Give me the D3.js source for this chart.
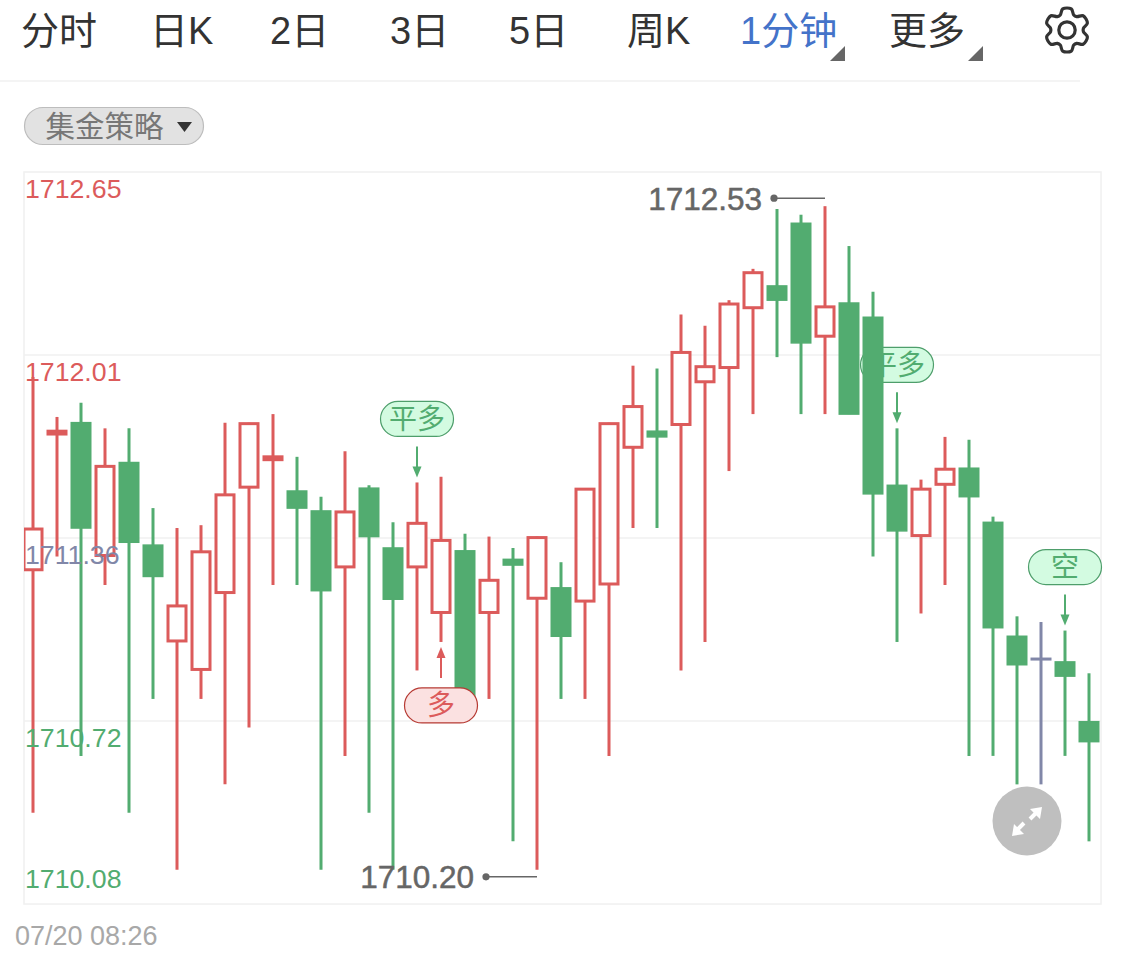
<!DOCTYPE html>
<html>
<head>
<meta charset="utf-8">
<script src="https://cdnjs.cloudflare.com/ajax/libs/d3/7.8.5/d3.min.js"></script>
<style>
html,body{margin:0;padding:0;background:#fff;}
svg{display:block;font-family:"Liberation Sans","Noto Sans CJK SC",sans-serif;}
</style>
</head>
<body>
<svg id="c" width="1125" height="957"></svg>
<script>
// ---- data ----
const openP  = [1711.25,1711.73,1711.77,1711.30,1711.63,1711.34,1711.00,1710.90,1711.17,1711.54,1711.64,1711.53,1711.46,1711.26,1711.54,1711.33,1711.26,1711.10,1711.32,1711.10,1711.29,1711.15,1711.19,1711.14,1711.20,1711.68,1711.74,1711.76,1711.91,1711.96,1712.17,1712.25,1712.47,1712.07,1712.19,1712.14,1711.55,1711.37,1711.55,1711.61,1711.42,1711.02,1710.94,1710.93,1710.72];
const closeP = [1711.40,1711.74,1711.40,1711.62,1711.35,1711.23,1711.13,1711.32,1711.52,1711.77,1711.65,1711.47,1711.18,1711.46,1711.37,1711.15,1711.42,1711.36,1710.81,1711.22,1711.27,1711.37,1711.02,1711.54,1711.77,1711.83,1711.72,1712.02,1711.97,1712.19,1712.30,1712.20,1712.05,1712.18,1711.80,1711.52,1711.39,1711.54,1711.61,1711.51,1711.05,1710.92,1710.94,1710.88,1710.65];
const highP  = [1711.93,1711.79,1711.84,1711.75,1711.75,1711.47,1711.40,1711.41,1711.77,1711.77,1711.80,1711.65,1711.51,1711.67,1711.55,1711.42,1711.56,1711.58,1711.38,1711.37,1711.33,1711.37,1711.28,1711.54,1711.77,1711.97,1711.96,1712.15,1712.11,1712.20,1712.31,1712.52,1712.50,1712.53,1712.39,1712.23,1711.75,1711.57,1711.72,1711.71,1711.44,1711.09,1711.07,1711.04,1710.89];
const lowP   = [1710.40,1711.30,1710.60,1711.20,1710.40,1710.80,1710.20,1710.80,1710.50,1710.70,1711.20,1711.20,1710.20,1710.60,1710.40,1710.20,1710.90,1711.00,1710.80,1710.80,1710.30,1710.20,1710.80,1710.80,1710.60,1711.40,1711.40,1710.90,1711.00,1711.60,1711.80,1712.00,1711.80,1711.80,1711.80,1711.30,1711.00,1711.10,1711.20,1710.60,1710.60,1710.50,1710.50,1710.60,1710.30];
const axisTicks  = [1712.65,1712.0075,1711.365,1710.7225,1710.08];
const axisLabels = ["1712.65","1712.01","1711.36","1710.72","1710.08"];
const gridTicks  = [1712.0075,1711.365,1710.7225];
const tabLabels  = ["分时","日K","2日","3日","5日","周K","1分钟","更多"];
const signalIdx  = [36,16,17,43];
const signalText = ["平多","平多","多","空"];
const signalDir  = ["sell","sell","buy","sell"];
const strategyLabel = "集金策略";
const dateLabel = "07/20 08:26";

// ---- colours ----
const RED="#DC5B5B", GREEN="#52AC70", GRAY="#8187A8";
const svg=d3.select("#c");

// ---- scales ----
const idx=d3.range(openP.length);
const x=d3.scaleBand().domain(idx).range([21,1101]).paddingInner(.125).paddingOuter(.0625);
const y=d3.scaleLinear().domain([1710.08,1712.65]).range([904,172]);
const cx=i=>x(i)+x.bandwidth()/2;

// ---- tab bar ----
const tabX=[21,150,270,390,509,627,740,889];
svg.selectAll("text.tab").data(tabLabels).join("text").attr("class","tab")
  .attr("x",(d,i)=>tabX[i]).attr("y",44).attr("font-size",38)
  .attr("fill",(d,i)=>i===6?"#4473C9":"#333").text(d=>d);
[[845,46],[983,46]].forEach(p=>svg.append("path")
  .attr("d",`M${p[0]} ${p[1]}V${p[1]+15}H${p[0]-15}Z`).attr("fill","#666"));
// gear
const gearPts=[];
d3.range(6).forEach(k=>{const a=k*Math.PI/3;
  [[-.42,16.5],[-.2,21.5],[.2,21.5],[.42,16.5]].forEach(t=>gearPts.push([a+t[0],t[1]]));});
svg.append("path").attr("transform","translate(1067,30)")
  .attr("d",d3.lineRadial().curve(d3.curveCatmullRomClosed.alpha(.5))(gearPts))
  .attr("fill","none").attr("stroke","#333").attr("stroke-width",3.2);
svg.append("circle").attr("cx",1067).attr("cy",30).attr("r",8.2)
  .attr("fill","none").attr("stroke","#333").attr("stroke-width",3.2);
svg.append("line").attr("x1",0).attr("x2",1080).attr("y1",81).attr("y2",81)
  .attr("stroke","#F1F1F1").attr("stroke-width",1.5);

// ---- strategy pill ----
svg.append("rect").attr("x",24.5).attr("y",107.5).attr("width",179).attr("height",37).attr("rx",18.5)
  .attr("fill","#E2E2E2").attr("stroke","#BDBDBD").attr("stroke-width",1.2);
svg.append("text").attr("x",45.5).attr("y",137).attr("font-size",29.5).attr("fill","#777").text(strategyLabel);
svg.append("path").attr("d","M177 122H192L184.5 132Z").attr("fill","#333");

// ---- frame & grid ----
svg.append("rect").attr("x",24).attr("y",172).attr("width",1077).attr("height",732)
  .attr("fill","none").attr("stroke","#F0F0F0").attr("stroke-width",1.5);
svg.append("g").selectAll("line").data(gridTicks).join("line")
  .attr("x1",24).attr("x2",1101).attr("y1",d=>y(d)).attr("y2",d=>y(d))
  .attr("stroke","#F1F1F1").attr("stroke-width",1.5);

svg.append("defs").append("clipPath").attr("id","plot").append("rect")
  .attr("x",24).attr("y",172).attr("width",1077).attr("height",732);

// ---- signals ----
function drawSignal(g,j){
  const i=signalIdx[j], sell=signalDir[j]==="sell", col=sell?GREEN:RED;
  const base=sell?y(highP[i]):y(lowP[i]), s=sell?-1:1;
  const tip=base+s*5, tail=tip+s*31, near=tail+s*10;
  const bTop=sell?near-35:near;
  g.append("line").attr("x1",cx(i)).attr("x2",cx(i)).attr("y1",tail).attr("y2",tip+s*8)
    .attr("stroke",col).attr("stroke-width",2);
  g.append("path").attr("d",`M${cx(i)} ${tip}L${cx(i)-4.5} ${tip+s*11}H${cx(i)+4.5}Z`).attr("fill",col);
  g.append("rect").attr("x",cx(i)-36.5).attr("y",bTop).attr("width",73).attr("height",35).attr("rx",17.5)
    .attr("fill",sell?"#D3FBE1":"#FBE1E1").attr("stroke",sell?"#4E9E6B":"#B63A33").attr("stroke-width",1.2);
  g.append("text").attr("x",cx(i)).attr("y",bTop+27.5).attr("text-anchor","middle")
    .attr("font-size",28).attr("fill",col).text(signalText[j]);
}
drawSignal(svg.append("g"),0);

// ---- candles ----
const isUp=i=>closeP[i]>openP[i], isFlat=i=>closeP[i]===openP[i];
const colorOf=i=>isUp(i)?RED:isFlat(i)?GRAY:GREEN;
const bodyH=i=>Math.abs(y(openP[i])-y(closeP[i]));
const inset=i=>isUp(i)&&bodyH(i)>6?1:0;
const sw=i=>isUp(i)||isFlat(i)?3:1.5;
const candles=svg.append("g").attr("clip-path","url(#plot)").selectAll("g").data(idx).join("g");
candles.append("line").attr("x1",cx).attr("x2",cx)
  .attr("y1",i=>y(highP[i])).attr("y2",i=>y(lowP[i]))
  .attr("stroke",colorOf).attr("stroke-width",3);
candles.append("rect")
  .attr("x",i=>x(i)+sw(i)/2)
  .attr("width",i=>x.bandwidth()-sw(i))
  .attr("y",i=>y(Math.max(openP[i],closeP[i]))+inset(i))
  .attr("height",i=>Math.max(.01,bodyH(i)-2*inset(i)))
  .attr("fill",i=>isUp(i)?"#fff":colorOf(i))
  .attr("stroke",colorOf)
  .attr("stroke-width",sw);

// ---- signals on top ----
[1,2,3].forEach(j=>drawSignal(svg.append("g"),j));

// ---- axis labels ----
const axis=d3.axisRight(y).tickValues(axisTicks).tickSize(0).tickPadding(0)
  .tickFormat((d,i)=>axisLabels[i]);
const ag=svg.append("g").attr("transform","translate(25,0)").call(axis);
ag.select(".domain").remove();
ag.selectAll("text").attr("font-family",null).attr("font-size",26.7).attr("dy",null)
  .attr("y",(d,i)=>i===4?-24:18).attr("dominant-baseline","middle")
  .attr("fill",(d,i)=>i<2?RED:i===2?GRAY:GREEN);

// ---- high / low annotations ----
const hi=d3.max(highP), lo=d3.min(lowP), hiI=highP.indexOf(hi), loI=lowP.lastIndexOf(lo);
[[hiI,hi,y(hi)-8],[loI,lo,y(lo)+7]].forEach(([i,v,py])=>{
  const a=svg.append("g");
  a.append("line").attr("x1",cx(i)-51).attr("x2",cx(i)).attr("y1",py).attr("y2",py).attr("stroke","#666").attr("stroke-width",1.5);
  a.append("circle").attr("cx",cx(i)-51).attr("cy",py).attr("r",3.6).attr("fill","#666");
  a.append("text").attr("x",cx(i)-63).attr("y",py+11.5).attr("text-anchor","end")
    .attr("font-size",31.5).attr("fill","#666").attr("stroke","#666").attr("stroke-width",.5).text(v.toFixed(2));
});

// ---- expand button ----
const ex=svg.append("g").attr("transform","translate(1027,821)");
ex.append("circle").attr("r",34.5).attr("fill","#BFBFBF");
ex.append("path").attr("d","M12 -11L3 -2M-12 11L-3 2").attr("stroke","#fff").attr("stroke-width",4).attr("fill","none");
ex.append("path").attr("d","M15 -14L3 -12L13 -2ZM-15 15L-13 3L-3 13Z").attr("fill","#fff");

// ---- date ----
svg.append("text").attr("x",15).attr("y",945).attr("font-size",27).attr("fill","#A8A8A8").text(dateLabel);
</script>
</body>
</html>
